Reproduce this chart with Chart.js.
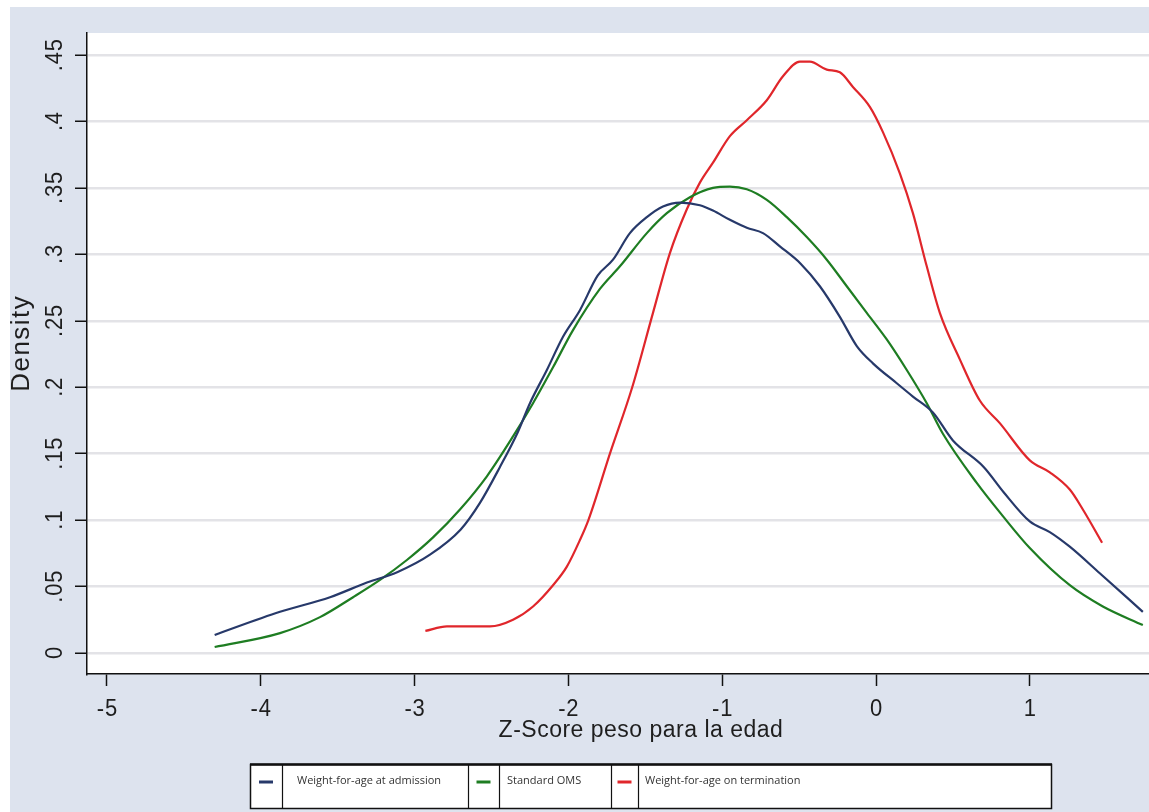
<!DOCTYPE html>
<html><head><meta charset="utf-8">
<script src="https://cdn.jsdelivr.net/npm/chart.js@4.4.0/dist/chart.umd.min.js"></script>
<style>html,body{margin:0;padding:0;background:#fff;overflow:hidden}canvas{display:block}</style>
</head><body>
<canvas id="c" width="1149" height="812"></canvas>
<script>
const xTickValues = [-5, -4, -3, -2, -1, 0, 1];
const xTickLabels = ['-5', '-4', '-3', '-2', '-1', '0', '1'];
const yTickValues = [0, 0.05, 0.1, 0.15, 0.2, 0.25, 0.3, 0.35, 0.4, 0.45];
const yTickLabels = ['0', '.05', '.1', '.15', '.2', '.25', '.3', '.35', '.4', '.45'];
const xTitle = 'Z-Score peso para la edad';
const yTitle = 'Density';
const seriesNames = ['Weight-for-age at admission', 'Standard OMS', 'Weight-for-age on termination'];

const admissionX = [-4.30, -3.875, -3.55, -3.31, -3.11, -2.90, -2.70, -2.575, -2.445, -2.33, -2.25, -2.14, -2.035, -1.925, -1.81, -1.71, -1.60, -1.49, -1.385, -1.275, -1.145, -1.06, -0.95, -0.84, -0.735, -0.625, -0.49, -0.365, -0.235, -0.125, -0.02, 0.135, 0.24, 0.37, 0.50, 0.70, 0.83, 1.00, 1.13, 1.26, 1.455, 1.735];
const admissionY = [0.0136, 0.031, 0.042, 0.053, 0.061, 0.074, 0.093, 0.113, 0.140, 0.166, 0.188, 0.213, 0.238, 0.258, 0.284, 0.296, 0.316, 0.328, 0.336, 0.339, 0.337, 0.333, 0.326, 0.320, 0.316, 0.306, 0.293, 0.276, 0.253, 0.231, 0.218, 0.203, 0.193, 0.181, 0.160, 0.140, 0.121, 0.099, 0.091, 0.080, 0.060, 0.031];

const omsX = [-4.30, -3.875, -3.615, -3.40, -3.225, -3.05, -2.88, -2.705, -2.53, -2.36, -2.23, -2.10, -1.97, -1.795, -1.665, -1.49, -1.36, -1.21, -1.06, -0.95, -0.84, -0.71, -0.58, -0.45, -0.32, -0.19, -0.06, 0.07, 0.20, 0.33, 0.435, 0.655, 0.825, 1.00, 1.26, 1.475, 1.735];
const omsY = [0.0045, 0.015, 0.027, 0.042, 0.055, 0.070, 0.087, 0.108, 0.133, 0.163, 0.188, 0.215, 0.243, 0.274, 0.291, 0.316, 0.331, 0.343, 0.350, 0.351, 0.349, 0.341, 0.328, 0.313, 0.296, 0.276, 0.256, 0.236, 0.213, 0.188, 0.165, 0.128, 0.103, 0.079, 0.051, 0.035, 0.021];

const terminationX = [-2.93, -2.79, -2.51, -2.36, -2.23, -2.10, -2.01, -1.925, -1.87, -1.73, -1.585, -1.45, -1.34, -1.23, -1.145, -1.06, -0.95, -0.84, -0.71, -0.605, -0.495, -0.43, -0.32, -0.235, -0.15, -0.04, 0.045, 0.155, 0.24, 0.33, 0.415, 0.545, 0.675, 0.805, 1.00, 1.13, 1.26, 1.345, 1.47];
const terminationY = [0.0166, 0.020, 0.020, 0.025, 0.035, 0.051, 0.065, 0.085, 0.100, 0.150, 0.200, 0.256, 0.301, 0.334, 0.354, 0.369, 0.389, 0.401, 0.416, 0.434, 0.445, 0.445, 0.439, 0.437, 0.426, 0.411, 0.392, 0.361, 0.331, 0.291, 0.256, 0.221, 0.190, 0.173, 0.145, 0.136, 0.123, 0.108, 0.083];

const colors = ['#27396a', '#1e7d22', '#e0262b'];

function pts(xs, ys) { return xs.map((x, i) => ({ x: x, y: ys[i] })); }

const bgPlugin = {
  id: 'bg',
  beforeDraw(chart) {
    const ctx = chart.ctx, a = chart.chartArea;
    ctx.save();
    ctx.fillStyle = '#ffffff';
    ctx.fillRect(0, 0, chart.width, chart.height);
    ctx.fillStyle = '#dde3ee';
    ctx.fillRect(10, 7, chart.width - 10, chart.height - 7);
    ctx.fillStyle = '#ffffff';
    ctx.fillRect(a.left, a.top, a.right - a.left, a.bottom - a.top);
    ctx.restore();
  },
  afterDraw(chart) {
    const ctx = chart.ctx;
    const xs = chart.scales.x, ys = chart.scales.y;
    ctx.save();
    ctx.fillStyle = '#1e1e1e';
    ctx.font = '22px "Liberation Sans", Arial, sans-serif';
    ctx.letterSpacing = '0.8px';
    ctx.textAlign = 'center';
    ctx.textBaseline = 'middle';
    yTickValues.forEach((v, i) => {
      const py = ys.getPixelForValue(v);
      ctx.save();
      ctx.translate(56, py);
      ctx.rotate(-Math.PI / 2);
      ctx.scale(1, 1.05);
      ctx.fillText(yTickLabels[i], 0.4, 0);
      ctx.restore();
    });
    xTickValues.forEach((v, i) => {
      const px = xs.getPixelForValue(v);
      ctx.save();
      ctx.translate(px + 0.4, 709);
      ctx.scale(1, 1.08);
      ctx.fillText(xTickLabels[i], 0, 0);
      ctx.restore();
    });
    ctx.font = '23px "Liberation Sans", Arial, sans-serif';
    ctx.letterSpacing = '0.5px';
    ctx.fillText(xTitle, 641, 731);
    ctx.save();
    ctx.font = '26px "Liberation Sans", Arial, sans-serif';
    ctx.letterSpacing = '1.5px';
    ctx.translate(22, 344);
    ctx.rotate(-Math.PI / 2);
    ctx.fillText(yTitle, 0.75, 0);
    ctx.restore();

    // legend
    const L = 250, R = 1052, T = 764, B = 809;
    ctx.letterSpacing = '0px';
    ctx.fillStyle = '#ffffff';
    ctx.fillRect(L, T, R - L, B - T);
    ctx.strokeStyle = '#111';
    ctx.lineWidth = 1.5;
    ctx.strokeRect(L + 0.5, T + 0.5, R - L - 1, B - T - 1);
    ctx.lineWidth = 2.5;
    ctx.beginPath(); ctx.moveTo(L, T + 0.5); ctx.lineTo(R, T + 0.5); ctx.stroke();
    ctx.lineWidth = 1.2;
    [282, 468, 499, 611, 638].forEach(x => {
      ctx.beginPath(); ctx.moveTo(x + 0.5, T); ctx.lineTo(x + 0.5, B); ctx.stroke();
    });
    const keyCenters = [266, 483.5, 624.5];
    const textX = [297, 507, 645];
    ctx.font = '11px "Open Sans", "DejaVu Sans", sans-serif';
    ctx.textAlign = 'left';
    ctx.textBaseline = 'middle';
    seriesNames.forEach((name, i) => {
      ctx.strokeStyle = colors[i];
      ctx.lineWidth = 3;
      ctx.beginPath(); ctx.moveTo(keyCenters[i] - 7, 782); ctx.lineTo(keyCenters[i] + 7, 782); ctx.stroke();
      ctx.fillStyle = '#333';
      ctx.fillText(name, textX[i], 781);
    });
    ctx.restore();
  }
};

const chart = new Chart(document.getElementById('c'), {
  type: 'line',
  data: {
    datasets: [
      { label: seriesNames[0], data: pts(admissionX, admissionY), borderColor: colors[0], borderWidth: 2.2, pointRadius: 0, cubicInterpolationMode: 'monotone', fill: false },
      { label: seriesNames[1], data: pts(omsX, omsY), borderColor: colors[1], borderWidth: 2.2, pointRadius: 0, cubicInterpolationMode: 'monotone', fill: false },
      { label: seriesNames[2], data: pts(terminationX, terminationY), borderColor: colors[2], borderWidth: 2.2, pointRadius: 0, cubicInterpolationMode: 'monotone', fill: false }
    ]
  },
  options: {
    responsive: false,
    animation: false,
    events: [],
    layout: { padding: { top: 33, right: 0, left: 0, bottom: 0 } },
    plugins: { legend: { display: false }, tooltip: { enabled: false }, title: { display: false } },
    scales: {
      x: {
        type: 'linear', min: -5.13, max: 1.775,
        afterBuildTicks: s => { s.ticks = xTickValues.map(v => ({ value: v })); },
        afterFit: s => { s.height = 138; },
        ticks: { display: false },
        grid: { display: true, drawOnChartArea: false, drawTicks: true, tickLength: 12, tickColor: '#111', tickWidth: 1.5 },
        border: { display: true, color: '#111', width: 1.5 }
      },
      y: {
        type: 'linear', min: -0.0158, max: 0.4666,
        afterBuildTicks: s => { s.ticks = yTickValues.map(v => ({ value: v })); },
        afterFit: s => { s.width = 87; },
        ticks: { display: false },
        grid: { display: true, drawOnChartArea: true, color: '#e3e3e7', lineWidth: 2.5, drawTicks: true, tickLength: 12, tickColor: '#111', tickWidth: 1.5 },
        border: { display: true, color: '#111', width: 1.5 }
      }
    }
  },
  plugins: [bgPlugin]
});
</script>
</body></html>
